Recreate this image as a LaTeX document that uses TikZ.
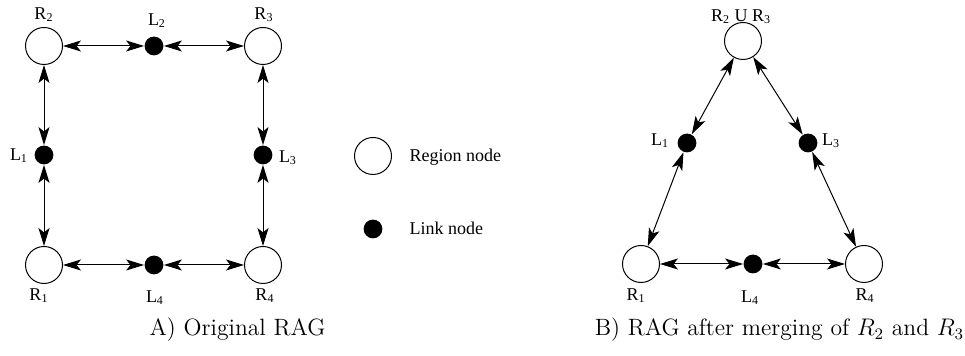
\documentclass[tikz,border=0pt]{standalone}
\usepackage{fontspec}
\newfontfamily\lblfont{Liberation Serif}
\usetikzlibrary{arrows.meta}

\begin{document}
\begin{tikzpicture}[>={Stealth[length=9pt,width=5.5pt,inset=2.2pt]}, x=0.5pt, y=-0.5pt, line width=0.5pt,
  region/.style={circle, draw, minimum size=18.5pt, inner sep=0pt},
  link/.style={circle, fill, minimum size=9.4pt, inner sep=0pt},
  lbl/.style={font=\lblfont\fontsize{9}{11}\selectfont, anchor=base, inner sep=0pt},
  captext/.style={font=\fontsize{11.8}{14}\selectfont, anchor=base, inner sep=0pt}]
  \useasboundingbox (0,0) rectangle (965,356);

  % A) original RAG
  \node[region] (aR2) at (44,46) {};
  \node[region] (aR3) at (263,46) {};
  \node[region] (aR1) at (44,265) {};
  \node[region] (aR4) at (263,265) {};
  \node[link] (aL2) at (154,46) {};
  \node[link] (aL1) at (44,155) {};
  \node[link] (aL3) at (263,155) {};
  \node[link] (aL4) at (154,265) {};
  \foreach \a/\b in {aR2/aL2, aL2/aR3, aR2/aL1, aL1/aR1, aR3/aL3, aL3/aR4, aR1/aL4, aL4/aR4}
    \draw[<->] (\a) -- (\b);

  \node[lbl] (taR2) at (44,20) {R\textsubscript{2}};
  \node[lbl] (taL2) at (157,26) {L\textsubscript{2}};
  \node[lbl] (taR3) at (264,20) {R\textsubscript{3}};
  \node[lbl] (taL1) at (19,161) {L\textsubscript{1}};
  \node[lbl] (taL3) at (288,163) {L\textsubscript{3}};
  \node[lbl] (taR1) at (39,301) {R\textsubscript{1}};
  \node[lbl] (taL4) at (155,303) {L\textsubscript{4}};
  \node[lbl] (taR4) at (265,301) {R\textsubscript{4}};
  \node[captext] (capA) at (237.5,336) {A) Original RAG};

  % legend
  \node[region] (keyRegion) at (373,156) {};
  \node[link] (keyLink) at (373,229) {};
  \node[lbl, anchor=base west] (tkeyRegion) at (409,162) {Region node};
  \node[lbl, anchor=base west] (tkeyLink) at (409,235) {Link node};

  % B) after merging
  \node[region] (bR23) at (743,41) {};
  \node[link] (bL1) at (687,143) {};
  \node[link] (bL3) at (808,143) {};
  \node[region] (bR1) at (641,264) {};
  \node[link] (bL4) at (753,264) {};
  \node[region] (bR4) at (864,264) {};
  \foreach \a/\b in {bR23/bL1, bR23/bL3, bL1/bR1, bL3/bR4, bR1/bL4, bL4/bR4}
    \draw[<->] (\a) -- (\b);

  \node[lbl] (tbR23) at (741,22) {R\textsubscript{2} U R\textsubscript{3}};
  \node[lbl] (tbL1) at (660,146) {L\textsubscript{1}};
  \node[lbl] (tbL3) at (831,146) {L\textsubscript{3}};
  \node[lbl] (tbR1) at (636,301) {R\textsubscript{1}};
  \node[lbl] (tbL4) at (750,303) {L\textsubscript{4}};
  \node[lbl] (tbR4) at (865,301) {R\textsubscript{4}};
  \node[captext] (capB) at (779.5,336) {B) RAG after merging of $R_2$ and $R_3$};
\end{tikzpicture}
\end{document}
